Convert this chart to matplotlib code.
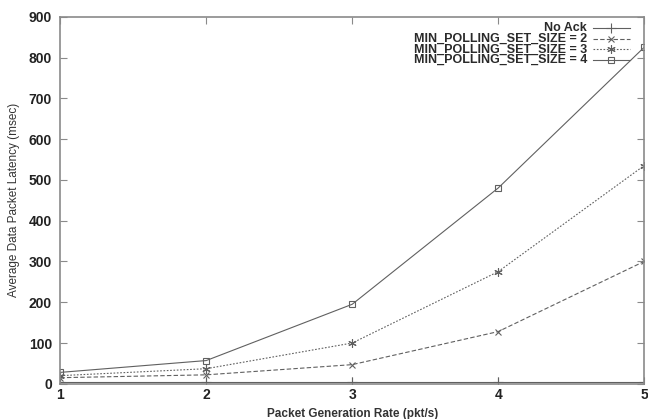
import numpy as np
import matplotlib.pyplot as plt
from matplotlib.lines import Line2D

plt.rcParams['font.family'] = ['Liberation Sans', 'DejaVu Sans']

# =====================================================
# DATA
# =====================================================
rates = [1, 2, 3, 4, 5]
no_ack = [5, 5, 5, 5, 5]
min_set_2 = [15, 22, 47, 128, 300]
min_set_3 = [20, 37, 100, 275, 535]
min_set_4 = [28, 57, 195, 480, 825]

labels = ["No Ack", "MIN_POLLING_SET_SIZE = 2",
          "MIN_POLLING_SET_SIZE = 3", "MIN_POLLING_SET_SIZE = 4"]
yticks = [0, 100, 200, 300, 400, 500, 600, 700, 800, 900]

LINE_COLOR = "#606060"
FRAME_COLOR = "#8a8a8a"

styles = [
    dict(linestyle="-", marker="+", markersize=7),
    dict(linestyle=(0, (4, 2)), marker="x", markersize=5),
    dict(linestyle=(0, (1.5, 1.5)), marker=(6, 2, 0), markersize=6),
    dict(linestyle="-", marker="s", markersize=5, markerfacecolor="none"),
]
series = [no_ack, min_set_2, min_set_3, min_set_4]

# =====================================================
# PLOT
# =====================================================
fig = plt.figure(figsize=(6.48, 4.19), dpi=100)
ax = fig.add_axes([0.093, 0.084, 0.901, 0.876])

for vals, st in zip(series, styles):
    ax.plot(rates, vals, color=LINE_COLOR, linewidth=0.8,
            markeredgewidth=0.8, **st)

ax.set_xlim(1, 5)
ax.set_ylim(0, 900)
ax.set_xticks(rates)
ax.set_yticks(yticks)
ax.tick_params(direction="in", length=5, color=FRAME_COLOR,
               labelsize=10, top=True, right=True, pad=6)
ax.tick_params(axis="x", pad=3)
for lbl in ax.get_xticklabels() + ax.get_yticklabels():
    lbl.set_fontweight("bold")
    lbl.set_color("#222222")
for sp in ax.spines.values():
    sp.set_color(FRAME_COLOR)
    sp.set_linewidth(1.2)

ax.set_xlabel("Packet Generation Rate (pkt/s)", fontsize=8.5,
              fontweight="bold", color="#333333", labelpad=4)
ax.set_ylabel("Average Data Packet Latency (msec)", fontsize=8.5,
              color="#333333", labelpad=6)

# gnuplot-style legend: right-aligned text, sample to the right
for i, (lab, st) in enumerate(zip(labels, styles)):
    y = 0.970 - i * 0.0295
    ax.text(0.902, y, lab, transform=ax.transAxes, ha="right", va="center",
            fontsize=9, fontweight="bold", color="#2a2a2a")
    ax.add_line(Line2D([0.913, 0.975], [y, y], transform=ax.transAxes,
                       color=LINE_COLOR, linewidth=0.8,
                       linestyle=st["linestyle"]))
    mk = {k: v for k, v in st.items() if k != "linestyle"}
    ax.add_line(Line2D([0.944], [y], transform=ax.transAxes,
                       color=LINE_COLOR, markeredgewidth=0.8,
                       linestyle="none", **mk))

fig.savefig("out.png", dpi=100)
